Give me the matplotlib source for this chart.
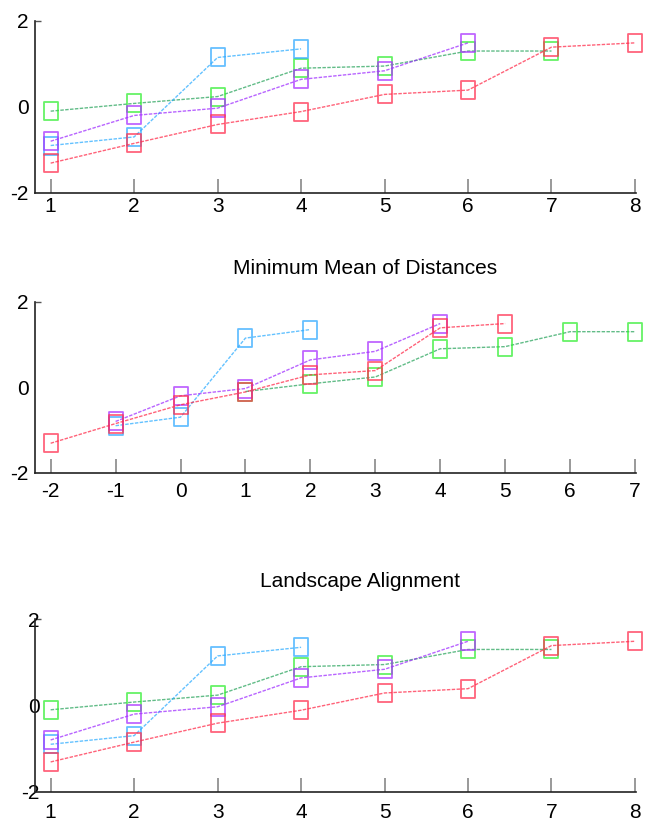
import numpy as np
import matplotlib.pyplot as plt
from matplotlib.path import Path

plt.rcParams['font.family'] = ['Liberation Sans', 'DejaVu Sans']
plt.rcParams['axes.unicode_minus'] = False

# values per series
green = [-0.1, 0.08, 0.24, 0.9, 0.95, 1.3, 1.3]
blue = [-0.9, -0.7, 1.15, 1.35]
purple = [-0.8, -0.2, -0.03, 0.64, 0.84, 1.49]
red = [-1.31, -0.85, -0.41, -0.11, 0.29, 0.39, 1.39, 1.49]

# first x value of each series in each panel
starts_top = [1, 1, 1, 1]
starts_mid = [1, -1, -1, -2]
starts_bot = [1, 1, 1, 1]

titles = ["", "Minimum Mean of Distances", "Landscape Alignment"]
xticks_top = list(range(1, 9))
xticks_mid = list(range(-2, 8))

series = [green, blue, purple, red]
line_cols = ['#1fa055', '#22a8ff', '#9a22ff', '#ff2040']
mark_cols = ['#33ee33', '#33aaff', '#aa33ff', '#ff3050']

rect = Path([(-0.35, -0.5), (0.35, -0.5), (0.35, 0.5), (-0.35, 0.5), (-0.35, -0.5)],
            [Path.MOVETO, Path.LINETO, Path.LINETO, Path.LINETO, Path.CLOSEPOLY])

fig = plt.figure(figsize=(6.45, 8.22), dpi=100)

boxes = [[0.055, 0.7655, 0.931, 0.209],
         [0.055, 0.4249, 0.931, 0.208],
         [0.055, 0.0369, 0.931, 0.2097]]
limits = [(0.818, 8.012), (-2.234, 7.015), (0.818, 8.012)]
allstarts = [starts_top, starts_mid, starts_bot]
allticks = [xticks_top, xticks_mid, xticks_top]
title_pos = [None, (0.5495, 1.165), (0.541, 1.185)]
ypad = [5, 5, -3]
xpad = [3, 7, 8]

for k in range(3):
    ax = fig.add_axes(boxes[k])
    for s, st, lc, mc in zip(series, allstarts[k], line_cols, mark_cols):
        x = np.arange(st, st + len(s))
        ax.plot(x, s, color=lc, lw=1.0, ls=(0, (2.5, 1)), alpha=0.7, clip_on=False)
        ax.plot(x, s, ls='none', marker=rect, ms=13.5, mfc='none', mec=mc,
                mew=1.3, alpha=0.75, clip_on=False)
    ax.set_xlim(*limits[k])
    ax.set_ylim(-2, 2)
    ax.set_xticks(allticks[k])
    ax.set_yticks([-2, 0, 2])
    ax.set_yticklabels(['-2', '0', '2'])
    for sp in ['top', 'right']:
        ax.spines[sp].set_visible(False)
    for sp in ['left', 'bottom']:
        ax.spines[sp].set_linewidth(1.2)
        ax.spines[sp].set_color('#222222')
    ax.tick_params(axis='x', direction='in', length=10, width=1.2, color='#888888',
                   labelsize=15, pad=xpad[k])
    ax.tick_params(axis='y', direction='in', length=4, width=1.0, color='#555555',
                   labelsize=15, pad=ypad[k])
    ax.yaxis.get_major_ticks()[0].tick1line.set_visible(False)
    ax.yaxis.get_major_ticks()[1].tick1line.set_visible(False)
    if titles[k]:
        ax.text(title_pos[k][0], title_pos[k][1], titles[k], transform=ax.transAxes,
                ha='center', va='baseline', fontsize=15)

fig.savefig('out.png', dpi=100)
